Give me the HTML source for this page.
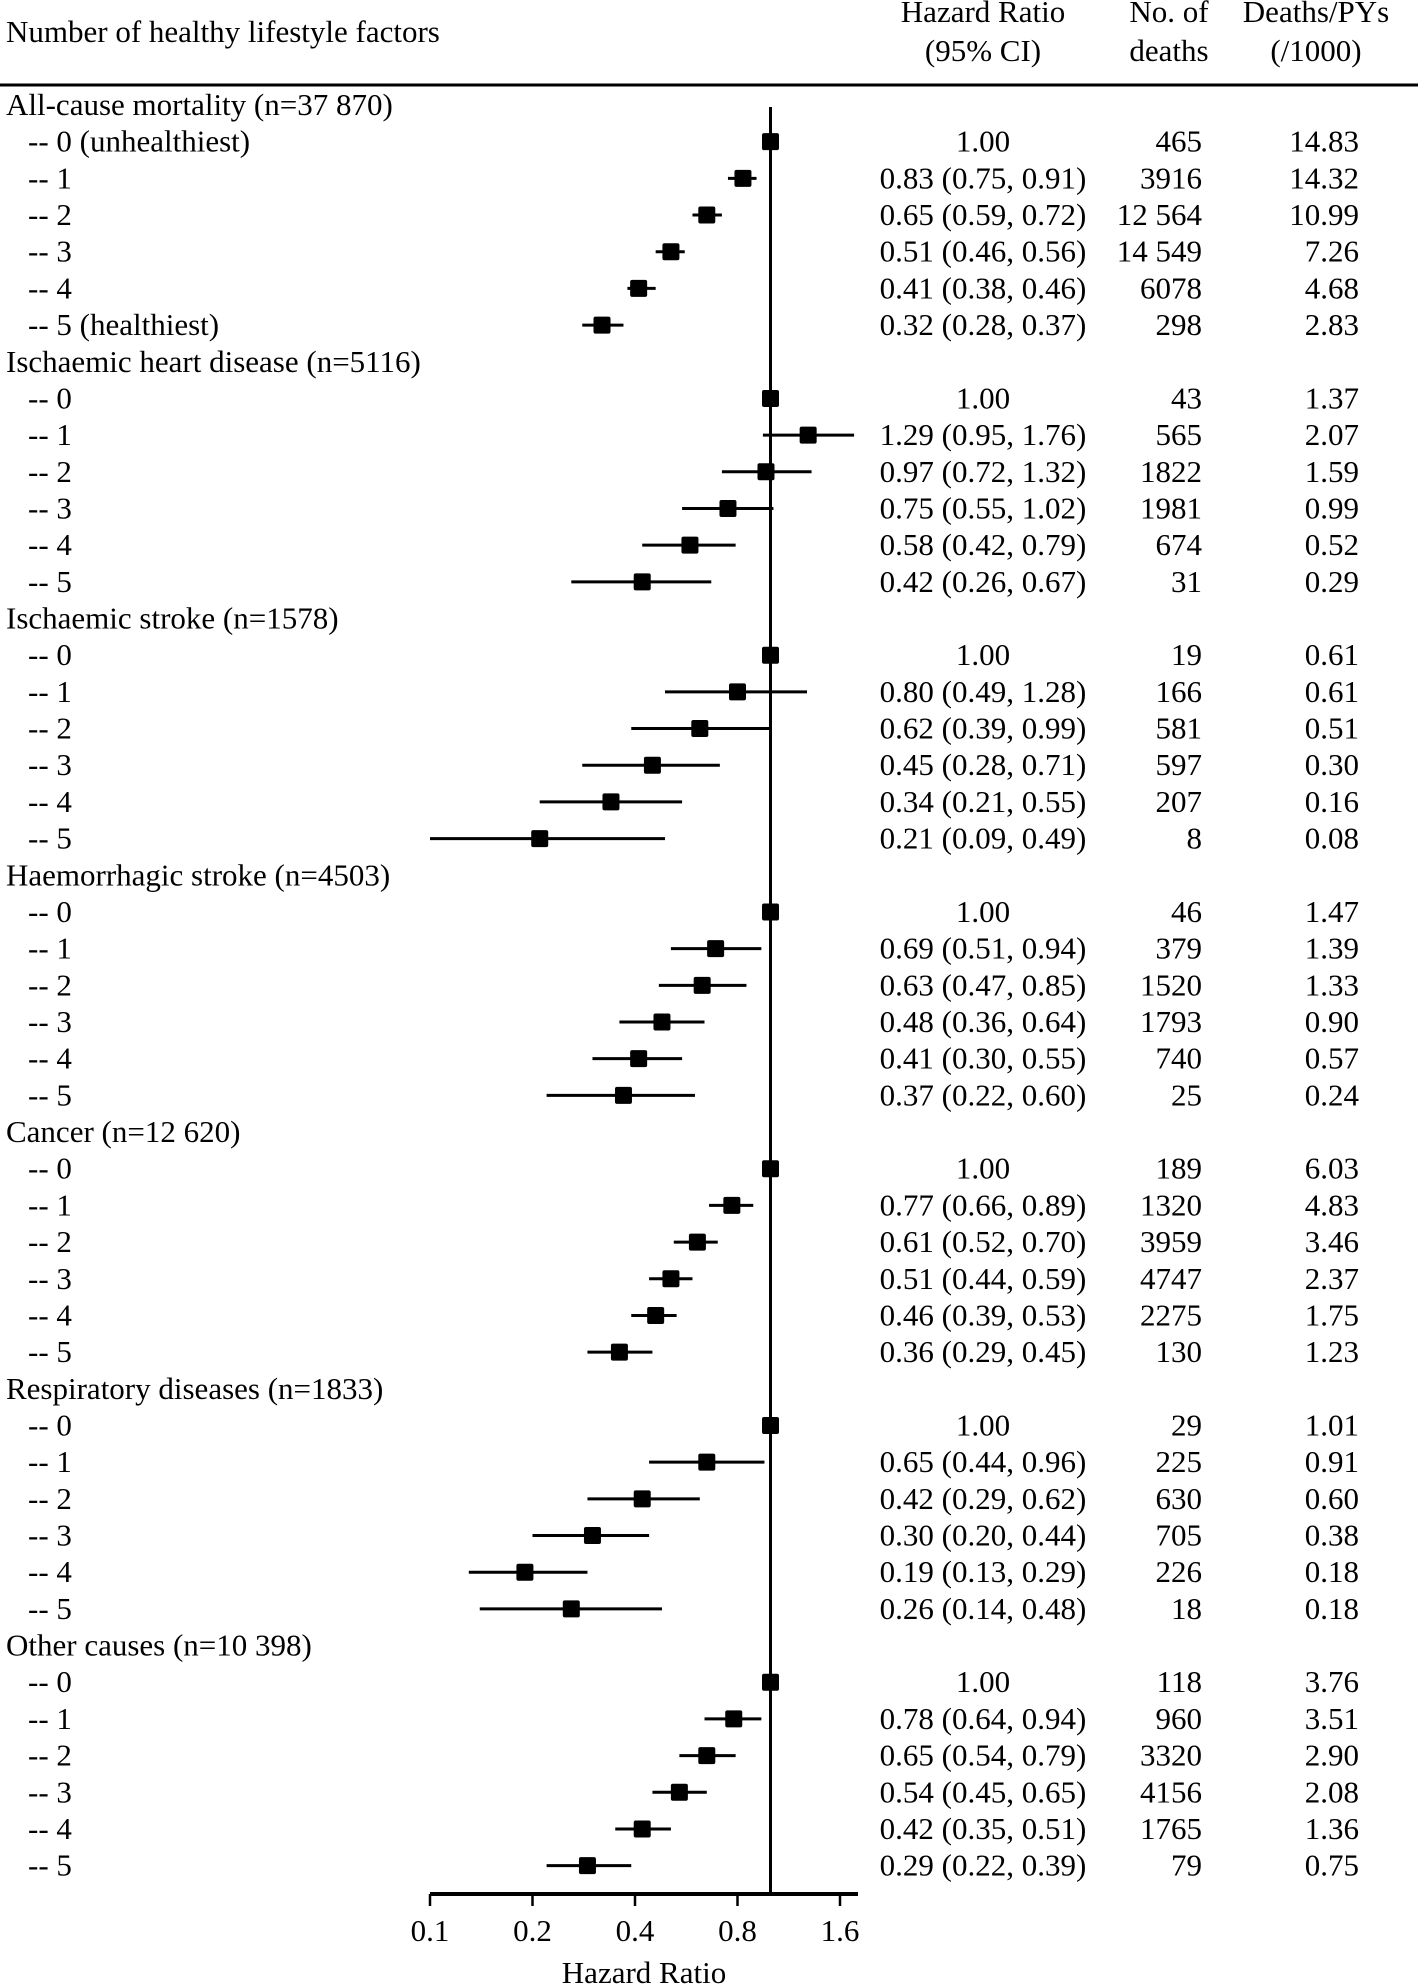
<!DOCTYPE html>
<html><head><meta charset="utf-8"><style>
html,body{margin:0;padding:0;background:#fff;}
svg{display:block;font-family:"Liberation Serif",serif;}
text{font-size:31px;fill:#000;}
</style></head><body>
<svg id="chart" width="1418" height="1984" viewBox="0 0 1418 1984" xmlns="http://www.w3.org/2000/svg">
<g>
<text x="6" y="42">Number of healthy lifestyle factors</text>
<text x="983" y="22" text-anchor="middle">Hazard Ratio</text>
<text x="983" y="61" text-anchor="middle">(95% CI)</text>
<text x="1169" y="22" text-anchor="middle">No. of</text>
<text x="1169" y="61" text-anchor="middle">deaths</text>
<text x="1316" y="22" text-anchor="middle">Deaths/PYs</text>
<text x="1316" y="61" text-anchor="middle">(/1000)</text>
<line x1="0" y1="85" x2="1418" y2="85" stroke="#000" stroke-width="3"/>
</g>
<g id="rows"></g>
<g id="axis"></g>
</svg>
<script>
const groups = ["All-cause mortality (n=37 870)","Ischaemic heart disease (n=5116)","Ischaemic stroke (n=1578)","Haemorrhagic stroke (n=4503)","Cancer (n=12 620)","Respiratory diseases (n=1833)","Other causes (n=10 398)"];
const rowLabels = [["-- 0 (unhealthiest)","-- 1","-- 2","-- 3","-- 4","-- 5 (healthiest)"],["-- 0","-- 1","-- 2","-- 3","-- 4","-- 5"],["-- 0","-- 1","-- 2","-- 3","-- 4","-- 5"],["-- 0","-- 1","-- 2","-- 3","-- 4","-- 5"],["-- 0","-- 1","-- 2","-- 3","-- 4","-- 5"],["-- 0","-- 1","-- 2","-- 3","-- 4","-- 5"],["-- 0","-- 1","-- 2","-- 3","-- 4","-- 5"]];
const hr = [[1.00,0.83,0.65,0.51,0.41,0.32],[1.00,1.29,0.97,0.75,0.58,0.42],[1.00,0.80,0.62,0.45,0.34,0.21],[1.00,0.69,0.63,0.48,0.41,0.37],[1.00,0.77,0.61,0.51,0.46,0.36],[1.00,0.65,0.42,0.30,0.19,0.26],[1.00,0.78,0.65,0.54,0.42,0.29]];
const lo = [[null,0.75,0.59,0.46,0.38,0.28],[null,0.95,0.72,0.55,0.42,0.26],[null,0.49,0.39,0.28,0.21,0.09],[null,0.51,0.47,0.36,0.30,0.22],[null,0.66,0.52,0.44,0.39,0.29],[null,0.44,0.29,0.20,0.13,0.14],[null,0.64,0.54,0.45,0.35,0.22]];
const hi = [[null,0.91,0.72,0.56,0.46,0.37],[null,1.76,1.32,1.02,0.79,0.67],[null,1.28,0.99,0.71,0.55,0.49],[null,0.94,0.85,0.64,0.55,0.60],[null,0.89,0.70,0.59,0.53,0.45],[null,0.96,0.62,0.44,0.29,0.48],[null,0.94,0.79,0.65,0.51,0.39]];
const deaths = [["465","3916","12 564","14 549","6078","298"],["43","565","1822","1981","674","31"],["19","166","581","597","207","8"],["46","379","1520","1793","740","25"],["189","1320","3959","4747","2275","130"],["29","225","630","705","226","18"],["118","960","3320","4156","1765","79"]];
const rates = [["14.83","14.32","10.99","7.26","4.68","2.83"],["1.37","2.07","1.59","0.99","0.52","0.29"],["0.61","0.61","0.51","0.30","0.16","0.08"],["1.47","1.39","1.33","0.90","0.57","0.24"],["6.03","4.83","3.46","2.37","1.75","1.23"],["1.01","0.91","0.60","0.38","0.18","0.18"],["3.76","3.51","2.90","2.08","1.36","0.75"]];
const ticks = [0.1,0.2,0.4,0.8,1.6];
const tickLabels = ["0.1","0.2","0.4","0.8","1.6"];

const NS="http://www.w3.org/2000/svg";
const xMin=0.1, x0=430, pxPerDoubling=102.5, axisEnd=858, axisY=1894;
function xs(v){ return x0 + pxPerDoubling*Math.log2(Math.max(v,xMin)/xMin); }
const rowY0=105, rowStep=36.68;
function ys(i){ return rowY0 + i*rowStep; }
function mk(tag, attrs, parent){ const e=document.createElementNS(NS,tag); for(const k in attrs) e.setAttribute(k,attrs[k]); parent.appendChild(e); return e; }
function fmt(v){ return v.toFixed(2); }
const rowsG=document.getElementById('rows');
const axisG=document.getElementById('axis');

const ref=mk('line',{x1:xs(1),x2:xs(1),y1:107,y2:axisY,stroke:'#000','stroke-width':3},axisG);



let idx=0;
groups.forEach((g,gi)=>{
  const gt=mk('text',{x:6,y:ys(idx)+10},rowsG); gt.textContent=g;
  
  
  idx++;
  for(let r=0;r<6;r++){
    const y=ys(idx);
    const t=mk('text',{x:28,y:y+10},rowsG); t.textContent=rowLabels[gi][r];
    
    
    if(lo[gi][r]!==null){
      const ci=mk('line',{x1:xs(lo[gi][r]),x2:xs(hi[gi][r]),y1:y,y2:y,stroke:'#000','stroke-width':3},rowsG);
      
      
    }
    const s=17;
    const sq=mk('rect',{x:xs(hr[gi][r])-s/2,y:y-s/2,width:s,height:s,rx:2,fill:'#000'},rowsG);
    
    
    const ht=mk('text',{x:983,y:y+10,'text-anchor':'middle'},rowsG);
    ht.textContent = lo[gi][r]===null ? fmt(hr[gi][r]) : fmt(hr[gi][r])+" ("+fmt(lo[gi][r])+", "+fmt(hi[gi][r])+")";
    
    
    const dt=mk('text',{x:1202,y:y+10,'text-anchor':'end'},rowsG); dt.textContent=deaths[gi][r];
    
    
    const rt=mk('text',{x:1359,y:y+10,'text-anchor':'end'},rowsG); rt.textContent=rates[gi][r];
    
    
    idx++;
  }
});

const al=mk('line',{x1:x0,x2:axisEnd,y1:axisY,y2:axisY,stroke:'#000','stroke-width':4},axisG);


ticks.forEach((v,i)=>{
  const tk=mk('line',{x1:xs(v),x2:xs(v),y1:axisY,y2:axisY+12,stroke:'#000','stroke-width':2.5},axisG);
  
  
  const tl=mk('text',{x:xs(v),y:1941,'text-anchor':'middle'},axisG); tl.textContent=tickLabels[i];
  
  
});
const xt=mk('text',{x:644,y:1983,'text-anchor':'middle'},axisG); xt.textContent="Hazard Ratio";


</script>
</body></html>
